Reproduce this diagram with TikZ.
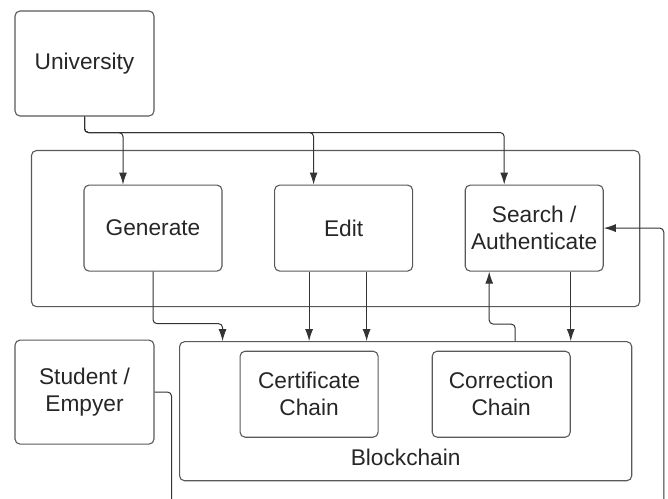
\documentclass[tikz,border=0pt]{standalone}
\usepackage{fontspec}
\setmainfont{Liberation Sans}
\usetikzlibrary{positioning, arrows.meta, calc, fit}

\begin{document}
\begin{tikzpicture}[
  x=1pt, y=1pt,
  node distance=51.5pt,
  every node/.style={font=\fontsize{22.7}{27}\selectfont, text=black!85},
  box/.style={draw=black!65, line width=1.1pt, rounded corners=5pt,
              minimum width=138pt, minimum height=86pt, align=center, inner sep=2pt},
  group/.style={draw=black!65, line width=1.1pt, rounded corners=5pt, inner sep=0pt},
  line/.style={draw=black!80, line width=1pt, rounded corners=4pt},
  arr/.style={line, -{Latex[length=12pt, width=8pt]}}
]
\clip (0,0) rectangle (668,498);

% top row
\node[box, minimum width=139pt, minimum height=105pt] (uni) at (84.5,434.5) {University};
\node[box, below=68pt of uni, xshift=68.5pt] (gen) {Generate};
\node[box, right=of gen] (edit) {Edit};
\node[box, right=of edit] (search) {Search /\\Authenticate};

\coordinate (appnw) at ($(gen.north west)+(-52,34)$);
\coordinate (appse) at ($(search.south east)+(36,-35)$);
\node[group, fit=(appnw)(appse)] (app) {};

% blockchain
\node[box, below=79pt of edit, xshift=-34.5pt] (cert) {Certificate\\Chain};
\node[box, right=53pt of cert] (corr) {Correction\\Chain};
\coordinate (chainnw) at ($(cert.north west)+(-60,9)$);
\coordinate (chainse) at ($(corr.south east)+(61,-43)$);
\node[group, fit=(chainnw)(chainse)] (chain) {};
\node[anchor=base] (chainlbl) at ($(chain.south)+(0,16)$) {Blockchain};

\node[box, minimum width=139pt, minimum height=104pt, below=223pt of uni] (stud) {Student /\\Empyer};

% wires
\coordinate[below=16pt of uni.south] (bus);
\foreach \n in {gen,edit,search}
  \draw[arr] (uni.south) -- (bus) -| ($(\n.north)+(-30,0)$);

\draw[arr] (gen.south) -- ++(0,-52) -| (chain.north -| gen.east);
\draw[arr] (edit.south -| cert.north) -- (chain.north -| cert.north);
\coordinate (e2) at ($(edit.south)+(23,0)$);
\draw[arr] (e2) -- (e2 |- chain.north);
\draw[arr] (search.south -| corr.east) -- (chain.north -| corr.east);
\draw[arr] ($(chain.north -| corr.north)+(14,0)$) -- ++(0,17) -| ($(search.south)+(-45,0)$);

% student / employer back to search
\coordinate (sdrop) at ($(stud.east)+(17,-120)$);
\draw[arr] (stud.east) -| (sdrop) -| ($(search.east)+(60,0)$) -- (search.east);
\end{tikzpicture}
\end{document}
